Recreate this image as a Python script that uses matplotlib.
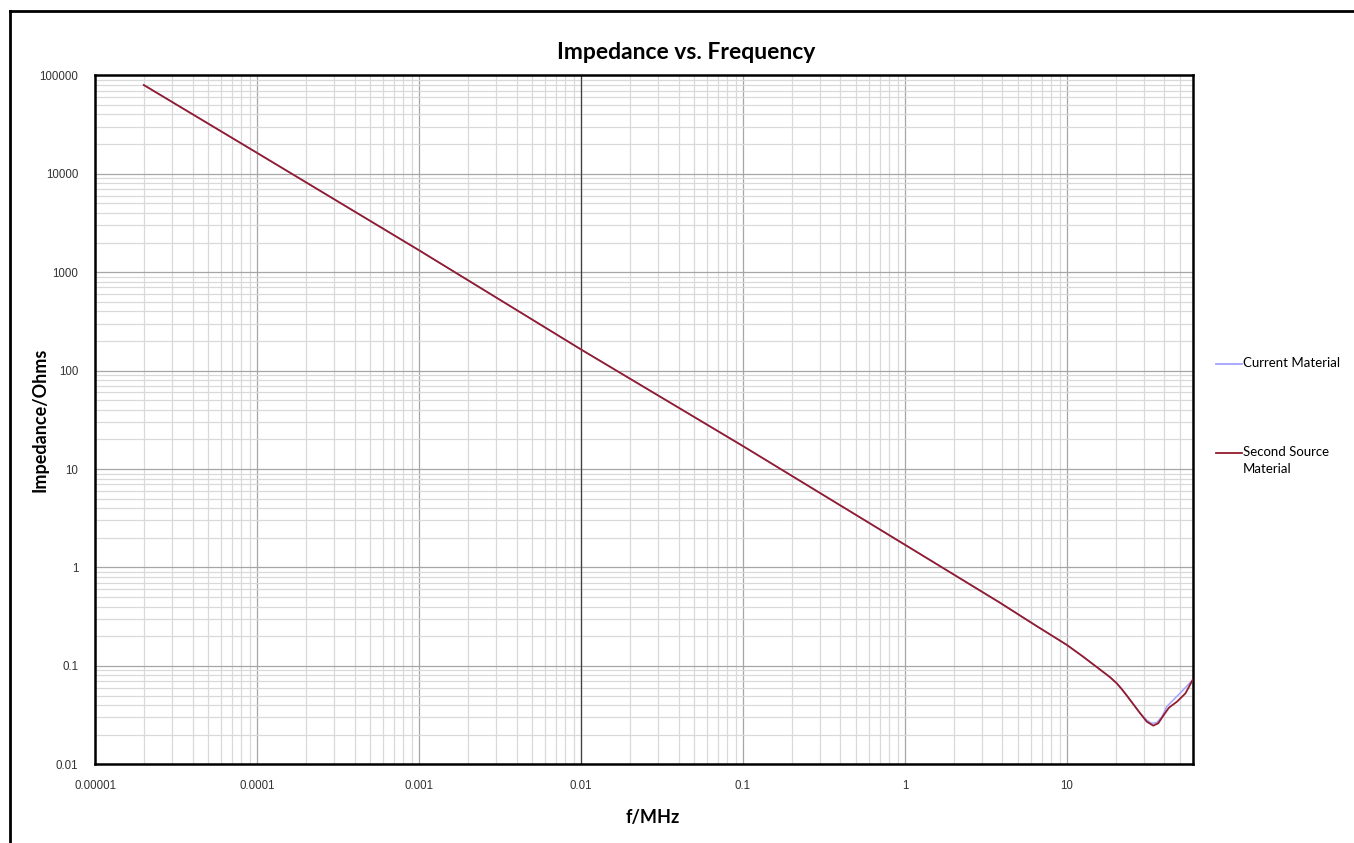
import matplotlib
matplotlib.use("Agg")
import matplotlib.pyplot as plt
from matplotlib.lines import Line2D
from matplotlib.ticker import FixedLocator, FixedFormatter, LogLocator, NullFormatter

# -------------------------------
# data
# -------------------------------
freq_current = [2e-5, 1e-4, 1e-3, 1e-2, 1e-1, 1.0, 3.86, 6.3, 10.0, 12.5, 15.25, 18.4, 20.3,
                21.8, 23.4, 28.3, 31.1, 33.3, 35.8, 38.6, 41.3, 45.3, 51.0, 59.7]
z_current = [79700, 16300, 1670, 164, 17.1, 1.70, 0.438, 0.262, 0.163, 0.125, 0.0975, 0.0770, 0.0665,
             0.0580, 0.0500, 0.0330, 0.0281, 0.0261, 0.0265, 0.0305, 0.0385, 0.0450, 0.0547, 0.0719]

freq_second = [2e-5, 1e-4, 1e-3, 1e-2, 1e-1, 1.0, 3.86, 6.3, 10.0, 12.5, 15.25, 18.4, 20.3,
               21.8, 23.4, 28.3, 31.1, 34.1, 36.6, 39.6, 42.6, 47.8, 53.9, 59.7]
z_second = [79700, 16300, 1670, 164, 17.1, 1.70, 0.438, 0.262, 0.163, 0.125, 0.0975, 0.0770, 0.0665,
            0.0580, 0.0500, 0.0330, 0.0271, 0.0247, 0.0261, 0.0317, 0.0376, 0.0433, 0.0526, 0.0719]

x_ticks = [1e-5, 1e-4, 1e-3, 1e-2, 1e-1, 1, 10]
x_tick_labels = ["0.00001", "0.0001", "0.001", "0.01", "0.1", "1", "10"]
y_ticks = [0.01, 0.1, 1, 10, 100, 1000, 10000, 100000]
y_tick_labels = ["0.01", "0.1", "1", "10", "100", "1000", "10000", "100000"]

series_names = ["Current Material", "Second Source\nMaterial"]
series_colors = ["#a3a3ff", "#921c2c"]

W, H = 1354, 843

fig = plt.figure(figsize=(W / 100, H / 100), dpi=100)
ax = fig.add_axes([95 / W, 1 - 764.3 / H, (1193 - 95) / W, (764.3 - 75.3) / H])

ax.plot(freq_current, z_current, color=series_colors[0], lw=1.1, zorder=3)
ax.plot(freq_second, z_second, color=series_colors[1], lw=1.3, zorder=4)

ax.set_xscale("log")
ax.set_yscale("log")
ax.set_xlim(1e-5, 60)
ax.set_ylim(0.01, 100000)

ax.xaxis.set_major_locator(FixedLocator(x_ticks))
ax.xaxis.set_major_formatter(FixedFormatter(x_tick_labels))
ax.yaxis.set_major_locator(FixedLocator(y_ticks))
ax.yaxis.set_major_formatter(FixedFormatter(y_tick_labels))
ax.xaxis.set_minor_locator(LogLocator(base=10, subs=range(2, 10), numticks=50))
ax.yaxis.set_minor_locator(LogLocator(base=10, subs=range(2, 10), numticks=50))
ax.xaxis.set_minor_formatter(NullFormatter())
ax.yaxis.set_minor_formatter(NullFormatter())

ax.grid(which="major", color="#a6a6a6", lw=0.9, zorder=1)
ax.grid(which="minor", color="#d9d9d9", lw=0.9, zorder=0)
# the 0.01 MHz line is drawn darker in the original
ax.axvline(0.01, color="#404040", lw=0.9, zorder=2)

ax.tick_params(which="both", length=0)
ax.tick_params(axis="x", pad=11)
ax.tick_params(axis="y", pad=12)
for lab in ax.get_xticklabels() + ax.get_yticklabels():
    lab.set_fontfamily("Liberation Sans")
    lab.set_fontsize(8.3)
    lab.set_color("#333333")

for sp in ax.spines.values():
    sp.set_linewidth(1.8)
    sp.set_color("black")

# title is centred on the whole chart, not on the plot area
ax.set_title("Impedance vs. Frequency", fontfamily="Lato", fontweight="bold",
             fontsize=16.5, pad=12, x=(686 - 95) / (1193 - 95))
ax.set_xlabel("f/MHz", fontfamily="Lato", fontweight="bold", fontsize=13)
ax.set_ylabel("Impedance/Ohms", fontfamily="Lato", fontweight="bold", fontsize=13)
ax.xaxis.set_label_coords((653 - 95) / (1193 - 95), -(817 - 764.3) / (764.3 - 75.3))
ax.yaxis.set_label_coords(-(95 - 40) / (1193 - 95), 0.5)
ax.xaxis.label.set_va("center")
ax.yaxis.label.set_va("center")

# -------------------------------
# legend drawn by hand to the right of the plot
# -------------------------------
legend_y = [364, 453]
for name, col, ly in zip(series_names, series_colors, legend_y):
    fig.add_artist(Line2D([1216 / W, 1242 / W], [1 - ly / H, 1 - ly / H],
                          color=col, lw=1.3, transform=fig.transFigure))
    fig.text(1243 / W, 1 - (ly - 7) / H, name, fontfamily="Lato", fontsize=9.5,
             va="top", ha="left", linespacing=1.55)

# outer chart frame (runs off the right and bottom edges)
fig.add_artist(Line2D([9.5 / W, 9.5 / W], [0, 1 - 10.5 / H], color="black", lw=2,
                      transform=fig.transFigure))
fig.add_artist(Line2D([9.5 / W, 1], [1 - 10.5 / H, 1 - 10.5 / H], color="black", lw=2,
                      transform=fig.transFigure))

fig.savefig("out.png", dpi=100)
